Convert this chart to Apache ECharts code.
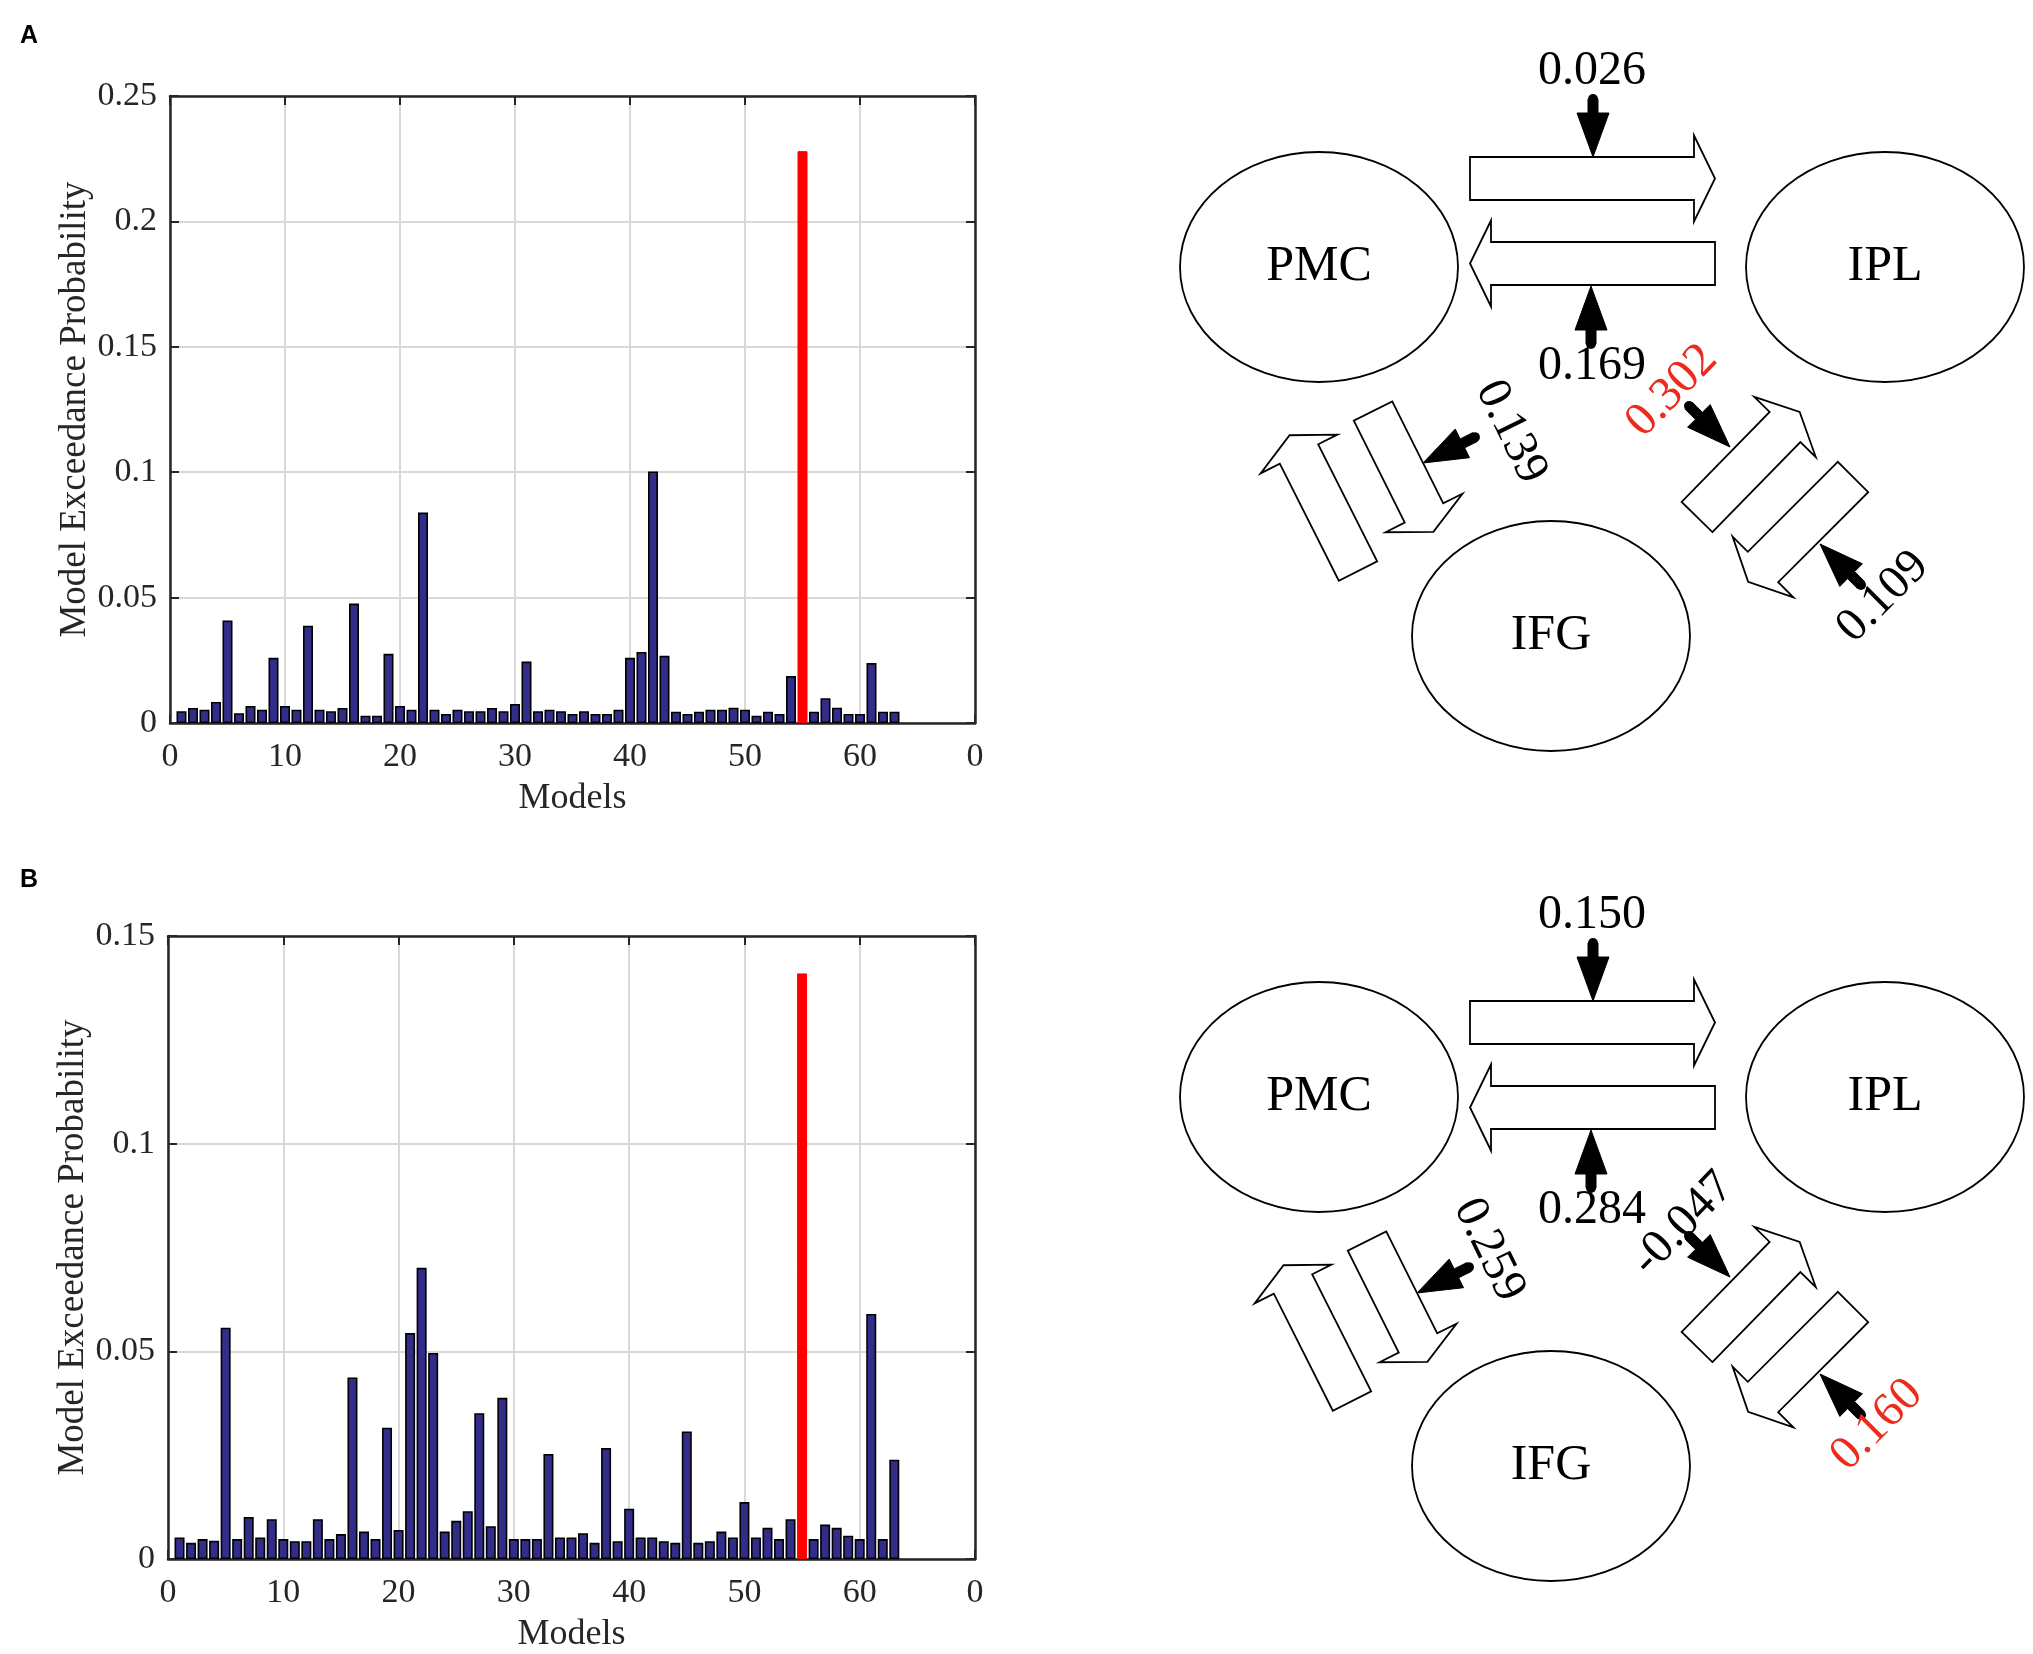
<!DOCTYPE html>
<html>
<head>
<meta charset="utf-8">
<script src="https://cdn.jsdelivr.net/npm/echarts@6/dist/echarts.min.js"></script>
<style>
  html, body { margin: 0; padding: 0; background: #fff; }
  #myChart { width: 2033px; height: 1654px; }
</style>
</head>
<body>
<div id="myChart"></div>
<script type="text/javascript">

  // ---- data ----
  var models = [1, 2, 3, 4, 5, 6, 7, 8, 9, 10, 11, 12, 13, 14, 15, 16, 17, 18, 19, 20,
    21, 22, 23, 24, 25, 26, 27, 28, 29, 30, 31, 32, 33, 34, 35, 36, 37, 38, 39, 40,
    41, 42, 43, 44, 45, 46, 47, 48, 49, 50, 51, 52, 53, 54, 55, 56, 57, 58, 59, 60,
    61, 62, 63];

  // panel A exceedance probabilities
  var probA = [0.0047, 0.0060, 0.0053, 0.0084, 0.0409, 0.0039, 0.0068, 0.0053, 0.0260, 0.0068,
    0.0053, 0.0388, 0.0053, 0.0047, 0.0060, 0.0476, 0.0029, 0.0029, 0.0276, 0.0068,
    0.0053, 0.0839, 0.0053, 0.0036, 0.0053, 0.0047, 0.0047, 0.0060, 0.0047, 0.0076,
    0.0245, 0.0047, 0.0053, 0.0047, 0.0036, 0.0047, 0.0036, 0.0036, 0.0053, 0.0260,
    0.0283, 0.1003, 0.0268, 0.0045, 0.0036, 0.0045, 0.0053, 0.0053, 0.0061, 0.0053,
    0.0029, 0.0045, 0.0036, 0.0187, 0.2280, 0.0045, 0.0099, 0.0061, 0.0036, 0.0036,
    0.0239, 0.0045, 0.0045];

  // panel B exceedance probabilities
  var probB = [0.0052, 0.0039, 0.0048, 0.0044, 0.0557, 0.0048, 0.0101, 0.0052, 0.0096, 0.0048,
    0.0043, 0.0043, 0.0096, 0.0048, 0.0060, 0.0437, 0.0066, 0.0048, 0.0316, 0.0070,
    0.0544, 0.0701, 0.0496, 0.0066, 0.0092, 0.0115, 0.0351, 0.0079, 0.0388, 0.0048,
    0.0048, 0.0048, 0.0253, 0.0052, 0.0052, 0.0062, 0.0039, 0.0267, 0.0043, 0.0121,
    0.0052, 0.0052, 0.0043, 0.0039, 0.0307, 0.0039, 0.0043, 0.0066, 0.0052, 0.0137,
    0.0052, 0.0075, 0.0048, 0.0096, 0.1410, 0.0048, 0.0083, 0.0075, 0.0056, 0.0048,
    0.0590, 0.0048, 0.0239];

  var winningModel = 55;
  var yMaxA = 0.25;
  var yMaxB = 0.15;

  // connections: PMC->IPL, IPL->PMC, PMC->IFG, IFG->IPL, IPL->IFG
  var regions = ['PMC', 'IPL', 'IFG'];
  var connA = [0.026, 0.169, 0.139, 0.302, 0.109];
  var connB = [0.150, 0.284, 0.259, -0.047, 0.160];
  var signifA = [false, false, false, true, false];
  var signifB = [false, false, false, false, true];

  // ---- styles ----
  var serif = 'Liberation Serif';
  var axisColor = '#262626';
  var barColor = '#332d8a';
  var redColor = '#ff0000';
  var labelRed = '#ee2a1c';

  var chartDom = document.getElementById('myChart');
  var myChart = echarts.init(chartDom, null, { renderer: 'canvas' });

  function barData(values) {
    return values.map(function (v, i) {
      if (models[i] === winningModel) {
        return { value: [models[i], v], itemStyle: { color: redColor, borderColor: redColor, borderWidth: 1 } };
      }
      return [models[i], v];
    });
  }

  function xAxes(grid) {
    var base = {
      gridIndex: grid, type: 'value', min: 0, max: 70, interval: 10,
      axisLine: { show: true, onZero: false, lineStyle: { color: axisColor, width: 2.5 } },
      axisTick: { show: true, inside: true, length: 9, lineStyle: { color: axisColor, width: 2 } }
    };
    var bottom = echarts.util.merge({
      position: 'bottom',
      name: 'Models', nameLocation: 'middle', nameGap: 58,
      nameTextStyle: { fontFamily: serif, fontSize: 36, color: axisColor },
      axisLabel: {
        fontFamily: serif, fontSize: 34, color: axisColor, margin: 17,
        // the last tick label is clipped to "0" in the original figure
        formatter: function (v) { return v === 70 ? '0' : String(v); }
      },
      splitLine: { show: true, lineStyle: { color: '#d8d8d8', width: 2 } }
    }, base, true);
    var top = echarts.util.merge({
      position: 'top', axisLabel: { show: false }, splitLine: { show: false }
    }, base, true);
    return [bottom, top];
  }

  function yAxes(grid, max) {
    var base = {
      gridIndex: grid, type: 'value', min: 0, max: max, interval: 0.05,
      axisLine: { show: true, onZero: false, lineStyle: { color: axisColor, width: 2.5 } },
      axisTick: { show: true, inside: true, length: 9, lineStyle: { color: axisColor, width: 2 } }
    };
    var left = echarts.util.merge({
      position: 'left',
      name: 'Model Exceedance Probability', nameLocation: 'middle', nameGap: 74,
      nameTextStyle: { fontFamily: serif, fontSize: 37, color: axisColor },
      axisLabel: { fontFamily: serif, fontSize: 34, color: axisColor, margin: 13 },
      splitLine: { show: true, lineStyle: { color: '#d8d8d8', width: 2 } }
    }, base, true);
    var right = echarts.util.merge({
      position: 'right', axisLabel: { show: false }, splitLine: { show: false }
    }, base, true);
    return [left, right];
  }

  // ---- diagram helpers ----
  function blockArrow(t, h) {
    var dx = h[0] - t[0], dy = h[1] - t[1];
    var len = Math.sqrt(dx * dx + dy * dy);
    var ux = dx / len, uy = dy / len, nx = -uy, ny = ux;
    var w = 21.5, hw = 43, hl = 21;
    function p(b, a, c) { return [b[0] + nx * a + ux * c, b[1] + ny * a + uy * c]; }
    return {
      type: 'polygon', z: 10, silent: true,
      shape: { points: [p(t, w, 0), p(h, w, 0), p(h, hw, 0), p(h, 0, hl), p(h, -hw, 0), p(h, -w, 0), p(t, -w, 0)] },
      style: { fill: '#fff', stroke: '#000', lineWidth: 1.8 }
    };
  }

  function pointer(tip, d) {
    var nx = -d[1], ny = d[0];
    var headL = 44, headW = 16, shaftW = 5, total = 58;
    function p(a, c) { return [tip[0] - d[0] * c + nx * a, tip[1] - d[1] * c + ny * a]; }
    return [
      {
        type: 'polygon', z: 20, silent: true,
        shape: { points: [p(0, 0), p(headW, headL), p(shaftW, headL), p(shaftW, total), p(-shaftW, total), p(-shaftW, headL), p(-headW, headL)] },
        style: { fill: '#000', stroke: '#000', lineWidth: 1 }
      },
      {
        type: 'circle', z: 20, silent: true,
        shape: { cx: tip[0] - d[0] * total, cy: tip[1] - d[1] * total, r: shaftW },
        style: { fill: '#000' }
      }
    ];
  }

  function textEl(txt, pos, rotDeg, color, size) {
    return {
      type: 'text', z: 30, silent: true,
      x: pos[0], y: pos[1], rotation: rotDeg * Math.PI / 180,
      style: {
        text: txt, fill: color, fontFamily: serif, fontSize: size,
        align: 'center', verticalAlign: 'middle'
      }
    };
  }

  // layout of one diagram; dy shifts ellipses/diagonals, dyTop shifts the horizontal pair
  function diagram(values, signif, dy, dyTop, dxLeft, labelPos) {
    var els = [];
    var nodes = [[1319, 267], [1885, 267], [1551, 636]];
    nodes.forEach(function (c, i) {
      els.push({
        type: 'ellipse', z: 5, silent: true,
        shape: { cx: c[0], cy: c[1] + dy, rx: 139, ry: 115 },
        style: { fill: 'none', stroke: '#000', lineWidth: 1.8 }
      });
      els.push(textEl(regions[i], [c[0], c[1] + dy], 0, '#000', 50));
    });

    // block arrows [tail, head base]
    var arrows = [
      [[1470, 178.5 + dyTop], [1694, 178.5 + dyTop]],
      [[1715, 263.5 + dyTop], [1491, 263.5 + dyTop]],
      [[1373 + dxLeft, 411 + dy], [1424 + dxLeft, 513 + dy]],
      [[1358 + dxLeft, 571 + dy], [1299 + dxLeft, 454 + dy]],
      [[1697, 517 + dy], [1785, 427 + dy]],
      [[1853, 477 + dy], [1763, 567 + dy]]
    ];
    arrows.forEach(function (a) { els.push(blockArrow(a[0], a[1])); });

    // pointers for the labelled connections
    var pointers = [
      [[1593, 157 + dyTop], [0, 1]],
      [[1591, 286 + dyTop], [0, -1]],
      [[1423 + dxLeft, 463 + dy], [-0.895, 0.446]],
      [[1730, 447 + dy], [0.707, 0.707]],
      [[1820, 544 + dy], [-0.707, -0.707]]
    ];
    pointers.forEach(function (p) { els = els.concat(pointer(p[0], p[1])); });

    var rots = [0, 0, -64, 46, 45];
    values.forEach(function (v, i) {
      els.push(textEl(v.toFixed(3), labelPos[i], rots[i], signif[i] ? labelRed : '#000', 48));
    });
    return els;
  }

  var graphics = [];
  graphics.push({
    type: 'text', x: 29, y: 36, silent: true,
    style: { text: 'A', fontFamily: 'Liberation Sans', fontWeight: 'bold', fontSize: 25, fill: '#000', align: 'center', verticalAlign: 'middle' }
  });
  graphics.push({
    type: 'text', x: 29, y: 880, silent: true,
    style: { text: 'B', fontFamily: 'Liberation Sans', fontWeight: 'bold', fontSize: 25, fill: '#000', align: 'center', verticalAlign: 'middle' }
  });
  graphics = graphics.concat(diagram(connA, signifA, 0, 0, 0,
    [[1592, 71], [1592, 366], [1511, 432], [1672, 391], [1883, 597]]));
  graphics = graphics.concat(diagram(connB, signifB, 830, 844, -6,
    [[1592, 915], [1592, 1210], [1489, 1250], [1683, 1224], [1877, 1425]]));

  var option = {
    backgroundColor: '#fff',
    animation: false,
    grid: [
      { left: 170, top: 96, width: 805, height: 627 },
      { left: 168, top: 936, width: 807, height: 624 }
    ],
    xAxis: xAxes(0).concat(xAxes(1)),
    yAxis: yAxes(0, yMaxA).concat(yAxes(1, yMaxB)),
    series: [
      {
        type: 'bar', xAxisIndex: 0, yAxisIndex: 0, barWidth: 10,
        itemStyle: { color: barColor, borderColor: '#000', borderWidth: 1.6 },
        data: barData(probA)
      },
      {
        type: 'bar', xAxisIndex: 2, yAxisIndex: 2, barWidth: 10,
        itemStyle: { color: barColor, borderColor: '#000', borderWidth: 1.6 },
        data: barData(probB)
      }
    ],
    graphic: graphics
  };

  option && myChart.setOption(option);
</script>
</body>
</html>
